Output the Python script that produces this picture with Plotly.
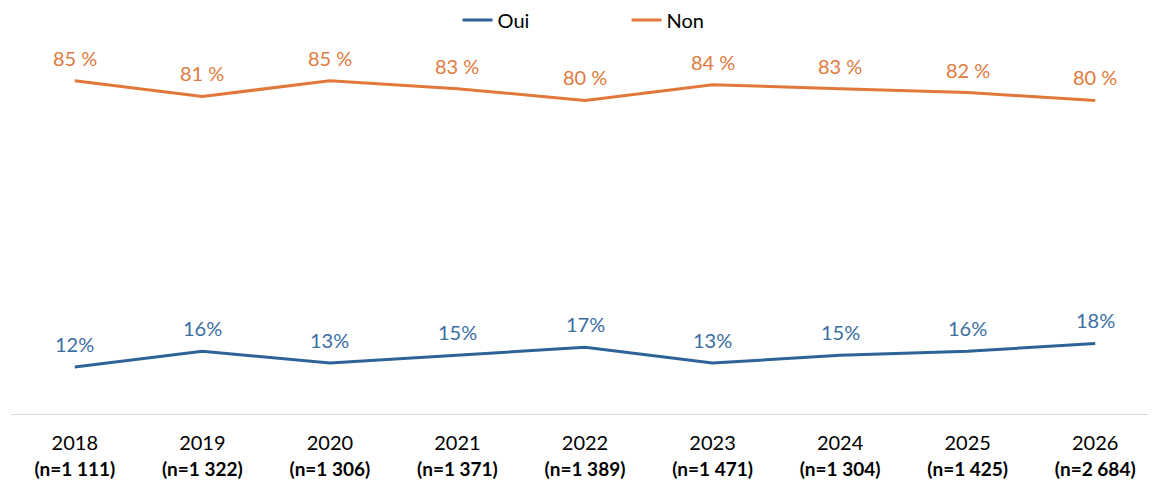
import plotly.graph_objects as go

years = ["2018", "2019", "2020", "2021", "2022", "2023", "2024", "2025", "2026"]
sample_sizes = ["1 111", "1 322", "1 306", "1 371", "1 389", "1 471", "1 304", "1 425", "2 684"]
oui = [12, 16, 13, 15, 17, 13, 15, 16, 18]
non = [85, 81, 85, 83, 80, 84, 83, 82, 80]

tick_text = [f"{y}<br><span style='font-size:19px'><b>(n={n})</b></span>"
             for y, n in zip(years, sample_sizes)]
x = list(range(len(years)))

BLUE = "#2E6399"
ORANGE = "#E2773A"
BLUE_TXT = "#3A6EA2"
ORANGE_TXT = "#E07A3E"
FONT = "Lato"
FS = 20

fig = go.Figure()
fig.add_trace(go.Scatter(x=x, y=oui, name="Oui", mode="lines",
                         line=dict(color=BLUE, width=3)))
fig.add_trace(go.Scatter(x=x, y=non, name="Non", mode="lines",
                         line=dict(color=ORANGE, width=3)))

annotations = []
for xi, v in zip(x, oui):
    annotations.append(dict(x=xi, y=v, xref="x", yref="y", text=f"{v}%",
                            showarrow=False, yanchor="bottom", yshift=9,
                            font=dict(color=BLUE_TXT, size=FS, family=FONT)))
for xi, v in zip(x, non):
    annotations.append(dict(x=xi, y=v, xref="x", yref="y", text=f"{v} %",
                            showarrow=False, yanchor="bottom", yshift=9,
                            font=dict(color=ORANGE_TXT, size=FS, family=FONT)))

fig.update_layout(
    width=1156, height=481,
    margin=dict(l=3, r=5, t=14, b=75, autoexpand=False),
    paper_bgcolor="white", plot_bgcolor="white",
    font=dict(family=FONT, size=FS, color="#000000"),
    showlegend=True,
    legend=dict(orientation="h", x=0.389, xanchor="left", y=1.005, yanchor="middle",
                font=dict(size=FS, color="#000000", family=FONT),
                entrywidth=124, entrywidthmode="pixels", itemwidth=30),
    annotations=annotations,
    xaxis=dict(
        tickmode="array", tickvals=x, ticktext=tick_text,
        range=[-0.5, 8.5], showgrid=False, zeroline=False,
        showline=True, linecolor="#D9D9D9", linewidth=1,
        ticks="", tickfont=dict(size=FS, color="#000000", family=FONT),
        ticklabelstandoff=11, automargin=False, fixedrange=True,
    ),
    yaxis=dict(range=[0, 100], visible=False, showgrid=False, zeroline=False,
               fixedrange=True, automargin=False),
)

fig.write_html("out.html")
